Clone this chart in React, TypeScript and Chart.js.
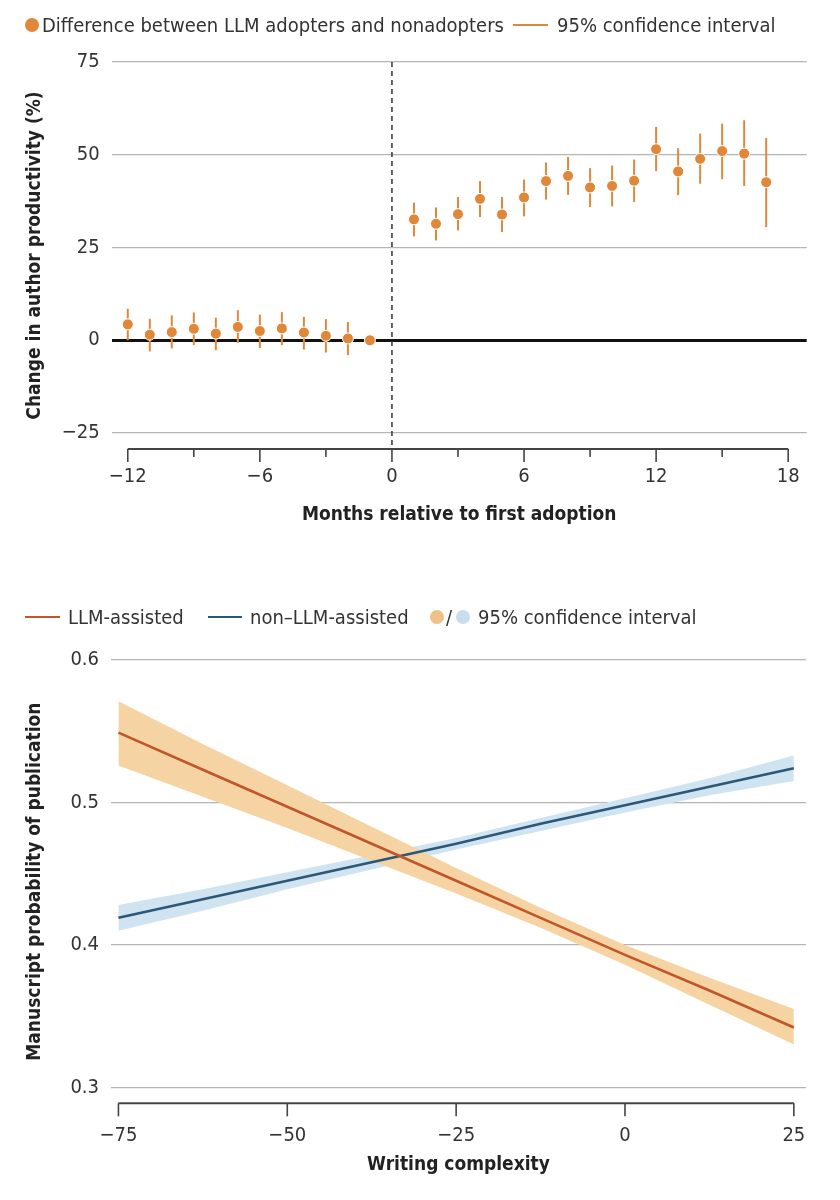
import React, { useEffect, useRef } from 'react';
import { Chart, registerables } from 'chart.js';

Chart.register(...registerables);

const FONT = "'Liberation Sans Narrow', 'DejaVu Sans Condensed', 'Roboto', sans-serif";

// ---------- Top chart data ----------
const months = [-12, -11, -10, -9, -8, -7, -6, -5, -4, -3, -2, -1, 1, 2, 3, 4, 5, 6, 7, 8, 9, 10, 11, 12, 13, 14, 15, 16, 17];
const diffValues = [4.3, 1.5, 2.2, 3.1, 1.8, 3.6, 2.5, 3.2, 2.1, 1.2, 0.5, 0, 32.6, 31.4, 34.0, 38.1, 33.9, 38.5, 42.9, 44.3, 41.2, 41.6, 43.0, 51.5, 45.5, 48.9, 51.0, 50.3, 42.6];
const ciLow = [0, -3, -2.2, -1.3, -2.7, -0.7, -2.1, -1.3, -2.5, -3.3, -4, null, 28.0, 26.9, 29.6, 33.2, 29.2, 33.4, 37.9, 39.2, 35.9, 36.1, 37.3, 45.6, 39.1, 42.2, 43.4, 41.6, 30.5];
const ciHigh = [8.5, 5.8, 6.7, 7.5, 6.1, 8.1, 6.9, 7.6, 6.3, 5.7, 4.9, null, 37.1, 35.8, 38.6, 42.9, 38.6, 43.3, 47.9, 49.4, 46.4, 47.1, 48.7, 57.5, 51.8, 55.7, 58.4, 59.3, 54.5];
const topMajorTicks = [-12, -6, 0, 6, 12, 18];
const topMinorTicks = [-9, -3, 3, 9, 15];

// ---------- Bottom chart data ----------
const complexity = [-75, -62.5, -50, -37.5, -25, -12.5, 0, 12.5, 25];
const llmFit = [0.549, 0.523, 0.497, 0.471, 0.445, 0.419, 0.393, 0.368, 0.342];
const llmUpper = [0.571, 0.541, 0.512, 0.483, 0.454, 0.426, 0.400, 0.377, 0.355];
const llmLower = [0.526, 0.504, 0.482, 0.459, 0.436, 0.412, 0.386, 0.358, 0.330];
const nonFit = [0.419, 0.432, 0.445, 0.458, 0.471, 0.485, 0.498, 0.511, 0.524];
const nonUpper = [0.428, 0.439, 0.451, 0.463, 0.475, 0.489, 0.503, 0.517, 0.533];
const nonLower = [0.410, 0.424, 0.439, 0.453, 0.467, 0.480, 0.493, 0.505, 0.515];
const bottomTicks = [-75, -50, -25, 0, 25];

const ORANGE = '#e0883a';
const RUST = '#c1562a';
const NAVY = '#2b5778';
const ORANGE_BAND = '#f6d3a3';
const BLUE_BAND = '#cfe3f1';
const GRID = '#b5b5b5';
const AXIS = '#444444';

const fmt = (v: number) => (v < 0 ? '\u2212' + Math.abs(v) : String(v));
const pts = (xs: number[], ys: number[]) => xs.map((x, i) => ({ x, y: ys[i] }));

function axisPlugin(major: number[], minor: number[]) {
  return {
    id: 'customAxis',
    afterDraw(chart: any) {
      const { ctx, chartArea, scales } = chart;
      const x = scales.x;
      const yb = chartArea.bottom;
      ctx.save();
      ctx.strokeStyle = AXIS;
      ctx.lineWidth = 2;
      ctx.beginPath();
      ctx.moveTo(x.getPixelForValue(major[0]), yb);
      ctx.lineTo(x.getPixelForValue(major[major.length - 1]), yb);
      ctx.stroke();
      ctx.lineWidth = 1.6;
      major.forEach((v) => {
        const px = x.getPixelForValue(v);
        ctx.beginPath();
        ctx.moveTo(px, yb);
        ctx.lineTo(px, yb + 13);
        ctx.stroke();
      });
      minor.forEach((v) => {
        const px = x.getPixelForValue(v);
        ctx.beginPath();
        ctx.moveTo(px, yb);
        ctx.lineTo(px, yb + 8);
        ctx.stroke();
      });
      ctx.restore();
    },
  };
}

const errorBarPlugin = {
  id: 'errorBars',
  beforeDatasetsDraw(chart: any) {
    const { ctx, chartArea, scales } = chart;
    const { x, y } = scales;
    ctx.save();
    ctx.strokeStyle = '#333';
    ctx.lineWidth = 1.5;
    ctx.setLineDash([5, 4]);
    const x0 = x.getPixelForValue(0);
    ctx.beginPath();
    ctx.moveTo(x0, chartArea.top);
    ctx.lineTo(x0, chartArea.bottom);
    ctx.stroke();
    ctx.setLineDash([]);
    ctx.strokeStyle = ORANGE;
    ctx.lineWidth = 2;
    months.forEach((m, i) => {
      const lo = ciLow[i];
      const hi = ciHigh[i];
      if (lo == null || hi == null) return;
      const px = x.getPixelForValue(m);
      ctx.beginPath();
      ctx.moveTo(px, y.getPixelForValue(lo));
      ctx.lineTo(px, y.getPixelForValue(hi));
      ctx.stroke();
    });
    ctx.restore();
  },
};

const tickFont = { family: FONT, size: 20 };
const titleFont = { family: FONT, size: 19, weight: 'bold' as const };

export default function App() {
  const topRef = useRef<HTMLCanvasElement>(null);
  const botRef = useRef<HTMLCanvasElement>(null);

  useEffect(() => {
    const c1 = new Chart(topRef.current as HTMLCanvasElement, {
      type: 'scatter',
      data: {
        datasets: [
          {
            data: pts(months, diffValues),
            backgroundColor: ORANGE,
            borderColor: '#ffffff',
            borderWidth: 1,
            pointRadius: 5.5,
          },
        ],
      },
      options: {
        responsive: false,
        animation: false,
        layout: { padding: { top: 62, right: 33.3, bottom: 33.6, left: 0 } },
        plugins: { legend: { display: false }, tooltip: { enabled: false } },
        scales: {
          x: {
            type: 'linear',
            min: -12.73,
            max: 18.84,
            grid: { display: false, drawTicks: false },
            border: { display: false },
            ticks: {
              stepSize: 3,
              includeBounds: false,
              autoSkip: false,
              maxRotation: 0,
              padding: 16,
              color: '#333',
              font: tickFont,
              callback: (v: any) => (Number(v) % 6 === 0 ? fmt(Number(v)) : ''),
            },
            title: {
              display: true,
              text: 'Months relative to first adoption',
              color: '#222',
              font: titleFont,
              padding: { top: 0, bottom: 0 },
            },
            afterFit: (s: any) => {
              s.height = 77.4;
            },
          },
          y: {
            min: -29.3,
            max: 75,
            grid: {
              drawTicks: false,
              color: (c: any) => (c.tick && c.tick.value === 0 ? '#111' : GRID),
              lineWidth: (c: any) => (c.tick && c.tick.value === 0 ? 3 : 1.3),
            },
            border: { display: false },
            ticks: {
              stepSize: 25,
              includeBounds: false,
              padding: 12,
              color: '#333',
              font: tickFont,
              callback: (v: any) => fmt(Number(v)),
            },
            title: {
              display: true,
              text: 'Change in author productivity (%)',
              color: '#222',
              font: titleFont,
              padding: { top: 23.6, bottom: 0 },
            },
            afterFit: (s: any) => {
              s.width = 111.7;
            },
          },
        },
      } as any,
      plugins: [errorBarPlugin, axisPlugin(topMajorTicks, topMinorTicks)],
    });

    const c2 = new Chart(botRef.current as HTMLCanvasElement, {
      type: 'line',
      data: {
        datasets: [
          { data: pts(complexity, llmFit), borderColor: RUST, borderWidth: 2.6, pointRadius: 0, fill: false, order: 0 },
          { data: pts(complexity, nonFit), borderColor: NAVY, borderWidth: 2.6, pointRadius: 0, fill: false, order: 1 },
          { data: pts(complexity, llmUpper), borderWidth: 0, borderColor: 'rgba(0,0,0,0)', backgroundColor: ORANGE_BAND, pointRadius: 0, fill: '+1', order: 2 },
          { data: pts(complexity, llmLower), borderWidth: 0, borderColor: 'rgba(0,0,0,0)', pointRadius: 0, fill: false, order: 3 },
          { data: pts(complexity, nonUpper), borderWidth: 0, borderColor: 'rgba(0,0,0,0)', backgroundColor: BLUE_BAND, pointRadius: 0, fill: '+1', order: 4 },
          { data: pts(complexity, nonLower), borderWidth: 0, borderColor: 'rgba(0,0,0,0)', pointRadius: 0, fill: false, order: 5 },
        ],
      },
      options: {
        responsive: false,
        animation: false,
        layout: { padding: { top: 100, right: 34, bottom: 23.6, left: 0 } },
        plugins: {
          legend: { display: false },
          tooltip: { enabled: false },
          filler: { drawTime: 'beforeDatasetsDraw' },
        },
        scales: {
          x: {
            type: 'linear',
            min: -76.1,
            max: 26.8,
            grid: { display: false, drawTicks: false },
            border: { display: false },
            ticks: {
              stepSize: 25,
              includeBounds: false,
              autoSkip: false,
              maxRotation: 0,
              padding: 20,
              color: '#333',
              font: tickFont,
              callback: (v: any) => fmt(Number(v)),
            },
            title: {
              display: true,
              text: 'Writing complexity',
              color: '#222',
              font: titleFont,
              padding: { top: 0, bottom: 0 },
            },
            afterFit: (s: any) => {
              s.height = 73.1;
            },
          },
          y: {
            min: 0.2888,
            max: 0.6,
            grid: { drawTicks: false, color: GRID, lineWidth: 1.3 },
            border: { display: false },
            ticks: {
              stepSize: 0.1,
              includeBounds: false,
              padding: 12,
              color: '#333',
              font: tickFont,
              callback: (v: any) => Number(v).toFixed(1),
            },
            title: {
              display: true,
              text: 'Manuscript probability of publication',
              color: '#222',
              font: titleFont,
              padding: { top: 23.6, bottom: 0 },
            },
            afterFit: (s: any) => {
              s.width = 111;
            },
          },
        },
      } as any,
      plugins: [axisPlugin(bottomTicks, [])],
    });

    return () => {
      c1.destroy();
      c2.destroy();
    };
  }, []);

  const text: React.CSSProperties = {
    position: 'absolute',
    fontFamily: FONT,
    fontSize: 20,
    lineHeight: '26px',
    color: '#333',
    whiteSpace: 'nowrap',
  };
  const dot = (cx: number, cy: number, d: number, color: string): React.CSSProperties => ({
    position: 'absolute',
    left: cx - d / 2,
    top: cy - d / 2,
    width: d,
    height: d,
    borderRadius: '50%',
    background: color,
  });
  const line = (x1: number, x2: number, cy: number, color: string): React.CSSProperties => ({
    position: 'absolute',
    left: x1,
    top: cy - 1.25,
    width: x2 - x1,
    height: 2.5,
    background: color,
  });

  return (
    <div style={{ position: 'absolute', left: 0, top: 0, width: 840, height: 1200, background: '#fff' }}>
      <canvas ref={topRef} width={840} height={560} style={{ position: 'absolute', left: 0, top: 0, width: 840, height: 560 }} />
      <canvas ref={botRef} width={840} height={640} style={{ position: 'absolute', left: 0, top: 560, width: 840, height: 640 }} />

      {/* top legend */}
      <div style={dot(32, 25, 14, ORANGE)} />
      <div style={{ ...text, left: 42, top: 12 }}>Difference between LLM adopters and nonadopters</div>
      <div style={line(513, 548, 25, ORANGE)} />
      <div style={{ ...text, left: 557, top: 12 }}>95% confidence interval</div>

      {/* bottom legend */}
      <div style={line(25, 60, 617, RUST)} />
      <div style={{ ...text, left: 68, top: 604 }}>LLM-assisted</div>
      <div style={line(208, 242, 617, NAVY)} />
      <div style={{ ...text, left: 250, top: 604 }}>non–LLM-assisted</div>
      <div style={dot(437, 617, 14, '#f0c089')} />
      <div style={{ ...text, left: 446, top: 604 }}>/</div>
      <div style={dot(463, 617, 14, '#c6def0')} />
      <div style={{ ...text, left: 478, top: 604 }}>95% confidence interval</div>
    </div>
  );
}
